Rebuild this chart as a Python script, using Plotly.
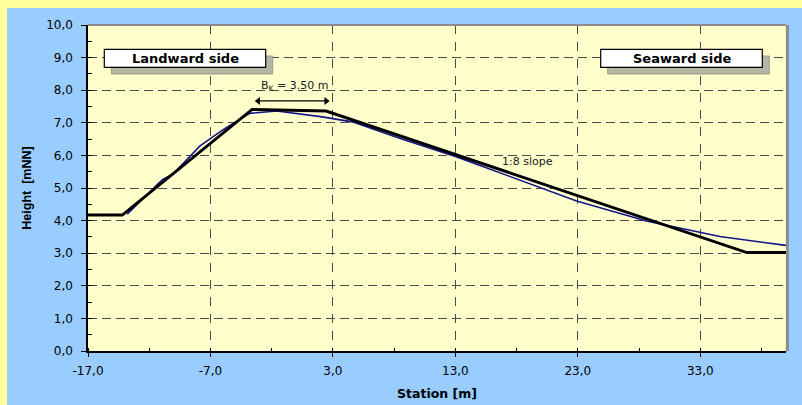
import plotly.graph_objects as go

# ---- data ----
design_station = [-17.0, -14.2, -3.6, 2.45, 36.8, 40.0]
design_height = [4.17, 4.17, 7.41, 7.36, 3.02, 3.02]

measured_station = [-13.8, -12.5, -10.95, -10.0, -7.85, -6.0, -3.8, -1.6, 2.0, 4.7,
                     8.5, 13.0, 16.7, 22.9, 28.6, 34.6, 40.0]
measured_height = [4.20, 4.68, 5.25, 5.45, 6.29, 6.78, 7.29, 7.36, 7.19, 7.02,
                   6.52, 5.97, 5.45, 4.60, 3.99, 3.51, 3.24]

x_tick_vals = [-17, -7, 3, 13, 23, 33]
x_tick_text = ["-17,0", "-7,0", "3,0", "13,0", "23,0", "33,0"]
y_tick_vals = [0, 1, 2, 3, 4, 5, 6, 7, 8, 9, 10]
y_tick_text = ["0,0", "1,0", "2,0", "3,0", "4,0", "5,0", "6,0", "7,0", "8,0", "9,0", "10,0"]

crest_width_label = "B<sub>K</sub> = 3.50 m"
crest_arrow_x = [-3.1, 2.45]
crest_arrow_y = [7.67, 7.67]

fig = go.Figure()
fig.add_trace(go.Scatter(x=measured_station, y=measured_height, mode="lines",
                         line=dict(color="#14148C", width=1.6), hoverinfo="skip"))
fig.add_trace(go.Scatter(x=design_station, y=design_height, mode="lines",
                         line=dict(color="#000000", width=3), hoverinfo="skip"))
fig.add_trace(go.Scatter(x=crest_arrow_x, y=crest_arrow_y, mode="lines+markers",
                         line=dict(color="#000000", width=1.2),
                         marker=dict(symbol=["triangle-left", "triangle-right"], size=7,
                                     color="#000000"),
                         hoverinfo="skip"))

def px(p):
    return (p - 88) / 698.0

def py(p):
    return (351 - p) / 326.0

shapes = [
    # yellow frame strips (left and top)
    dict(type="rect", xref="paper", yref="paper", x0=px(-20), x1=px(7), y0=-0.3, y1=1.2,
         fillcolor="#FFFF99", line=dict(width=0)),
    dict(type="rect", xref="paper", yref="paper", x0=px(-20), x1=1.1, y0=py(8), y1=1.2,
         fillcolor="#FFFF99", line=dict(width=0)),
    # top and right plot borders
    dict(type="line", xref="paper", yref="paper", x0=0, x1=1, y0=1, y1=1,
         line=dict(color="#8C8C8C", width=2)),
    dict(type="line", xref="paper", yref="paper", x0=1.002, x1=1.002, y0=0, y1=1,
         line=dict(color="#8C8C8C", width=3)),
]
for (bx0, bx1) in [(104.3, 265.7), (600.7, 762.3)]:
    shapes.append(dict(type="rect", xref="paper", yref="paper",
                       x0=px(bx0 + 7), x1=px(bx1 + 7), y0=py(74), y1=py(56),
                       fillcolor="#B6B6A4", line=dict(color="#9C9C88", width=1)))
    shapes.append(dict(type="rect", xref="paper", yref="paper",
                       x0=px(bx0), x1=px(bx1), y0=py(67.3), y1=py(49.3),
                       fillcolor="#FFFFFF", line=dict(color="#000000", width=1.2)))

annotations = [
    dict(xref="paper", yref="paper", x=px(185), y=py(58.3), text="<b>Landward side</b>",
         xanchor="center", yanchor="middle", showarrow=False,
         font=dict(family="DejaVu Sans", size=13, color="#000000")),
    dict(xref="paper", yref="paper", x=px(681.5), y=py(58.3), text="<b>Seaward side</b>",
         xanchor="center", yanchor="middle", showarrow=False,
         font=dict(family="DejaVu Sans", size=13, color="#000000")),
    dict(x=-0.1, y=8.13, text=crest_width_label, showarrow=False,
         xanchor="center", yanchor="middle",
         font=dict(family="DejaVu Sans", size=11, color="#222222")),
    dict(x=18.9, y=5.81, text="1:8 slope", showarrow=False,
         xanchor="center", yanchor="middle",
         font=dict(family="DejaVu Sans", size=11, color="#222222")),
]

fig.update_layout(
    width=802, height=405,
    margin=dict(l=88, r=16, t=25, b=54),
    paper_bgcolor="#99CCFF",
    plot_bgcolor="#FFFFCC",
    showlegend=False,
    shapes=shapes,
    annotations=annotations,
    font=dict(family="DejaVu Sans", size=12, color="#000000"),
)
fig.update_xaxes(
    range=[-17, 40], tickvals=x_tick_vals, ticktext=x_tick_text, automargin=False,
    showline=True, linecolor="#000000", linewidth=1.5,
    ticks="outside", ticklen=4, tickcolor="#000000", ticklabelstandoff=4,
    showgrid=True, gridcolor="#4A4A4A", gridwidth=1, griddash="9px,8px",
    minor=dict(dtick=5, tick0=-17, ticks="inside", ticklen=3, tickcolor="#000000", showgrid=False),
    zeroline=False,
    tickfont=dict(family="DejaVu Sans", size=12, color="#000000"),
    title=dict(text="<b>Station [m]</b>", standoff=12,
               font=dict(family="DejaVu Sans", size=12.5, color="#000000")),
)
fig.update_yaxes(
    range=[0, 10], tickvals=y_tick_vals, ticktext=y_tick_text, automargin=False,
    showline=True, linecolor="#000000", linewidth=1.5,
    ticks="outside", ticklen=5, tickcolor="#000000", ticklabelstandoff=6,
    showgrid=True, gridcolor="#4A4A4A", gridwidth=1, griddash="9px,5px",
    minor=dict(dtick=0.5, tick0=0, ticks="inside", ticklen=4, tickcolor="#000000", showgrid=False),
    zeroline=False,
    tickfont=dict(family="DejaVu Sans", size=12, color="#000000"),
    title=dict(text="<b>Height  [mNN]</b>", standoff=12,
               font=dict(family="Liberation Sans", size=12.5, color="#000000")),
)

fig.write_html("out.html", config={"displayModeBar": False},
               post_script="document.body.style.margin='0';document.body.style.overflow='hidden';")
